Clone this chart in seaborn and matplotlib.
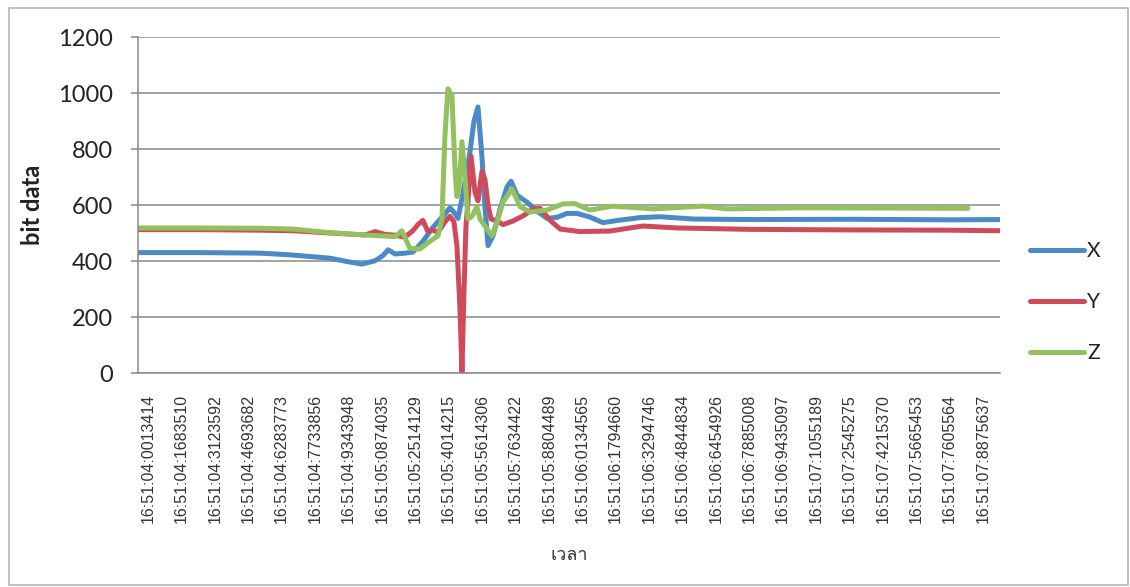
import numpy as np
import pandas as pd
import matplotlib
matplotlib.use("Agg")
import matplotlib.pyplot as plt
from matplotlib import font_manager
from matplotlib.ft2font import FT2Font
from matplotlib.patches import Rectangle
import seaborn as sns

# ---------------------------------------------------------------- data
# time-axis labels (one every tick step)
time_labels = [
    "16:51:04:0013414", "16:51:04:1683510", "16:51:04:3123592", "16:51:04:4693682",
    "16:51:04:6283773", "16:51:04:7733856", "16:51:04:9343948", "16:51:05:0874035",
    "16:51:05:2514129", "16:51:05:4014215", "16:51:05:5614306", "16:51:05:7634422",
    "16:51:05:8804489", "16:51:06:0134565", "16:51:06:1794660", "16:51:06:3294746",
    "16:51:06:4844834", "16:51:06:6454926", "16:51:06:7885008", "16:51:06:9435097",
    "16:51:07:1055189", "16:51:07:2545275", "16:51:07:4215370", "16:51:07:5665453",
    "16:51:07:7605564", "16:51:07:8875637",
]

# sample positions (in label steps) and raw sensor readings for each axis
x_pos = [-0.27, 1.56, 3.35, 4.25, 5.45, 6.05, 6.41, 6.80, 7.04, 7.19, 7.40, 7.69,
         7.93, 8.23, 8.53, 8.83, 9.04, 9.19, 9.28, 9.43, 9.64, 9.76, 9.88, 10.00,
         10.09, 10.18, 10.33, 10.54, 10.75, 10.87, 11.05, 11.35, 11.65, 11.95,
         12.25, 12.54, 12.84, 13.23, 13.62, 14.13, 14.73, 15.33, 16.32, 18.02,
         21.02, 24.01, 25.51]
x_val = [430, 430, 428, 422, 410, 396, 389, 401, 420, 440, 425, 428,
         432, 470, 520, 560, 590, 570, 552, 640, 790, 900, 950, 770,
         590, 455, 490, 585, 665, 685, 635, 610, 578, 552,
         556, 570, 570, 557, 537, 546, 555, 558, 550, 548,
         549, 547, 548]

y_pos = [-0.27, 1.56, 3.35, 4.34, 5.45, 6.50, 6.80, 7.10, 7.40, 7.69, 7.93, 8.08,
         8.23, 8.38, 8.53, 8.68, 8.89, 9.04, 9.16, 9.25, 9.34, 9.40, 9.46, 9.52,
         9.58, 9.67, 9.79, 9.88, 10.00, 10.09, 10.18, 10.27, 10.45, 10.63, 10.93,
         11.23, 11.53, 11.74, 12.04, 12.34, 12.93, 13.83, 14.82, 15.84, 18.02,
         21.02, 24.01, 25.51]
y_val = [512, 512, 510, 508, 500, 493, 505, 495, 492, 485, 508, 530,
         545, 505, 511, 502, 540, 560, 540, 454, 230, 5, 290, 525,
         610, 775, 646, 615, 720, 690, 600, 550, 543, 530, 543,
         561, 586, 588, 545, 514, 505, 507, 525, 518, 513,
         511, 510, 508]

z_pos = [-0.27, 1.56, 3.35, 4.34, 5.45, 6.50, 7.40, 7.60, 7.69, 7.84, 8.14, 8.44,
         8.68, 8.80, 8.89, 8.98, 9.10, 9.19, 9.25, 9.31, 9.40, 9.49, 9.58, 9.70,
         9.85, 9.94, 10.15, 10.30, 10.45, 10.63, 10.90, 11.14, 11.44, 11.95,
         12.43, 12.78, 13.23, 13.92, 15.12, 16.62, 17.34, 19.52, 22.51, 24.55]
z_val = [518, 518, 517, 514, 501, 493, 487, 508, 485, 445, 443, 470,
         490, 550, 847, 1015, 990, 730, 630, 660, 826, 700, 550, 560,
         594, 550, 514, 490, 539, 611, 657, 594, 575, 582,
         604, 605, 582, 596, 586, 596, 586, 590, 589, 588]

series_names = ["X", "Y", "Z"]
series_colors = ["#4a8bc6", "#cf4b5c", "#93c15e"]

df = pd.concat([
    pd.DataFrame({"t": x_pos, "value": x_val, "axis": "X"}),
    pd.DataFrame({"t": y_pos, "value": y_val, "axis": "Y"}),
    pd.DataFrame({"t": z_pos, "value": z_val, "axis": "Z"}),
], ignore_index=True)


# ---------------------------------------------------------------- fonts
def family_with(ch, preferred=()):
    """Return the name of an installed font family that has glyph `ch`."""
    entries = sorted(font_manager.fontManager.ttflist,
                     key=lambda e: 0 if e.name in preferred else 1)
    for fe in entries:
        try:
            if ord(ch) in FT2Font(fe.fname).get_charmap():
                return fe.name
        except Exception:
            continue
    return None


sns.set_theme(style="white")
plt.rcParams["font.family"] = ["Lato", "DejaVu Sans"]

thai_family = family_with("\u0e40", preferred=("Noto Sans", "DejaVu Sans", "Liberation Sans"))
thai_fonts = [thai_family, "DejaVu Sans"] if thai_family else ["DejaVu Sans"]

# ---------------------------------------------------------------- figure
fig = plt.figure(figsize=(11.30, 5.87), dpi=100)
ax = fig.add_axes([138 / 1130, 1 - 373 / 587, 862 / 1130, 336 / 587])

sns.lineplot(data=df, x="t", y="value", hue="axis", hue_order=series_names,
             palette=series_colors, sort=False, estimator=None,
             linewidth=3.6, ax=ax)

ax.set_xlim(-0.30, 25.51)
ax.set_ylim(0, 1200)
ax.set_yticks(np.arange(0, 1201, 200))
ax.set_xticks(np.arange(len(time_labels)))
ax.set_xticklabels(time_labels, rotation=90, family=["Liberation Sans", "DejaVu Sans"],
                   fontsize=11.5, color="#333333")
for lab in ax.get_yticklabels():
    lab.set_fontsize(17)
    lab.set_color("#222222")

ax.yaxis.grid(True, color="#8a8a8a", linewidth=1.1)
ax.xaxis.grid(False)
ax.set_axisbelow(True)
for side in ("top", "right"):
    ax.spines[side].set_visible(False)
for side in ("left", "bottom"):
    ax.spines[side].set_color("#8a8a8a")
    ax.spines[side].set_linewidth(1.1)

ax.tick_params(axis="y", which="major", left=True, length=5, width=1.1,
               color="#8a8a8a", pad=13)
ax.tick_params(axis="x", which="major", bottom=False, length=0, pad=15)

ax.set_ylabel("bit data", fontsize=17, fontweight="bold", color="#222222", va="center")
ax.yaxis.set_label_coords(-0.122, 0.5)
ax.set_xlabel("เวลา", family=thai_fonts, fontsize=13, color="#333333", va="center")
ax.xaxis.set_label_coords(0.5, -0.5417)

# legend on the right side
handles, labels = ax.get_legend_handles_labels()
leg = ax.legend(handles, labels, loc="center left",
                bbox_to_anchor=(1030 / 1130, 1 - 302 / 587),
                bbox_transform=fig.transFigure, frameon=False, fontsize=15,
                handlelength=2.6, handletextpad=0.15, labelspacing=1.48,
                borderaxespad=0, borderpad=0)
for line in leg.get_lines():
    line.set_linewidth(3.6)
for txt in leg.get_texts():
    txt.set_color("#222222")

# chart-area border
fig.patches.append(Rectangle((9 / 1130, 2 / 587), 1119 / 1130, 577 / 587,
                             transform=fig.transFigure, fill=False,
                             edgecolor="#b5b5b5", linewidth=1.2))

fig.savefig("out.png", dpi=100, facecolor="white")
